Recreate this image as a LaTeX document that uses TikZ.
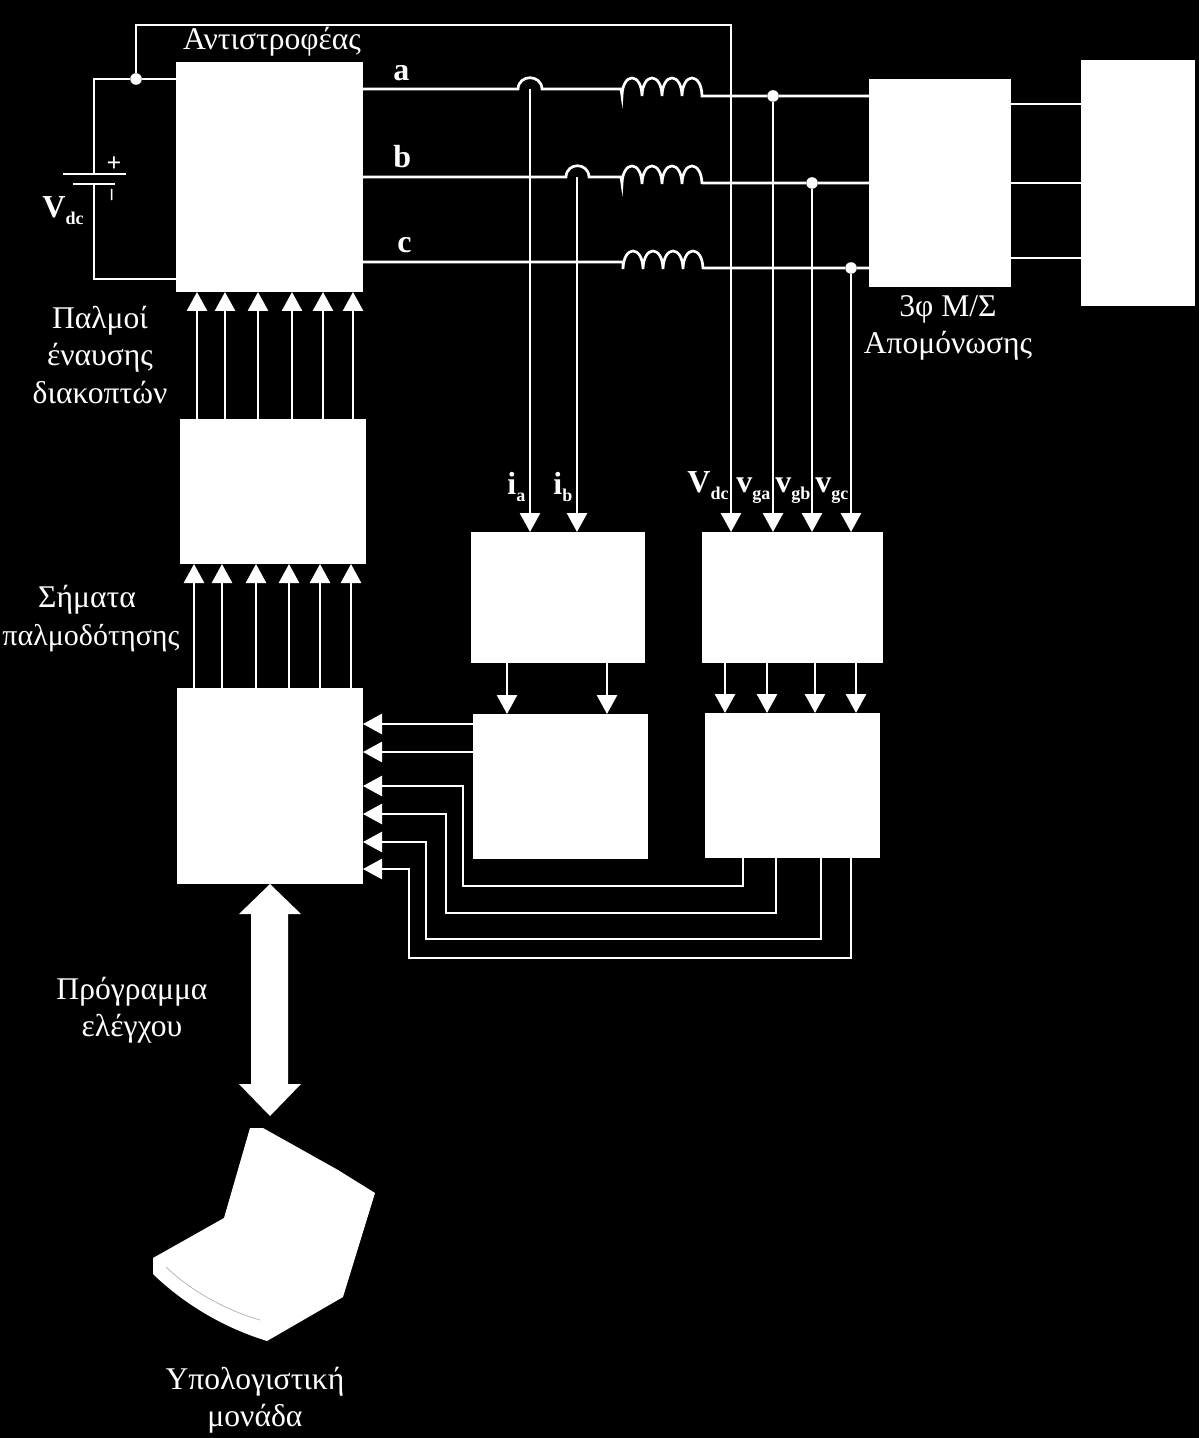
\documentclass[tikz,border=0pt]{standalone}
\usepackage{fontspec}
\setmainfont{Liberation Serif}
\usetikzlibrary{arrows.meta,calc}
\newcommand\subl[3]{#1\raisebox{#3}{\fontsize{9}{9}\selectfont #2}}
\tikzset{
  wire/.style={draw=white,line width=1.35pt},
  arr/.style={wire,-{Triangle[length=9.5pt,width=10pt,fill=white]}},
  box/.style={fill=white,draw=none,inner sep=0pt,outer sep=0pt},
  dot/.style={circle,fill=white,inner sep=0pt,minimum size=5.8pt},
  txt/.style={text=white,align=center,inner sep=0pt,font=\fontsize{15.8}{18.75}\selectfont},
  bld/.style={text=white,inner sep=0pt,anchor=base west,font=\bfseries\fontsize{16}{18}\selectfont},
}
\begin{document}
\begin{tikzpicture}[x=0.5pt,y=-0.5pt]
\fill[black] (0,0) rectangle (1199,1438);
\useasboundingbox (0,0) rectangle (1199,1438);
% boxes
\node[box,minimum width=93.5pt,minimum height=115pt] (inv) at (269.5,177) {};
\node[box,minimum width=71pt,minimum height=104pt] (trafo) at (940,183) {};
\node[box,minimum width=57pt,minimum height=123pt] (grid) at (1138,183) {};
\node[box,minimum width=93pt,minimum height=72.5pt] (drv) at (273,491.5) {};
\node[box,minimum width=93pt,minimum height=98pt] (ctrl) at (270,786) {};
\node[box,minimum width=87pt,minimum height=65.5pt] (mi) at (558,597.5) {};
\node[box,minimum width=90.5pt,minimum height=65.5pt] (mv) at (792.5,597.5) {};
\node[box,minimum width=87.5pt,minimum height=72.5pt] (ci) at (560.5,786.5) {};
\node[box,minimum width=87.5pt,minimum height=72.5pt] (cv) at (792.5,785.5) {};
% junctions
\node[dot] (dc) at (136,79) {};
\node[dot] (da) at (773,96) {};
\node[dot] (db) at (812,183) {};
\node[dot] (dd) at (851,268) {};
% dc side
\coordinate (bp) at (94,174);
\coordinate (bn) at (94,184);
\draw[wire] (inv.west |- dc) -- (dc) -- (94,79) -- (bp);
\draw[wire] (inv.west |- 0,279) -- (94,279) -- (bn);
\draw[wire] (63,174) -- (126,174);
\draw[wire] (73,184) -- (115,184);
\draw[arr] (dc) -- (136,25) -- (731,25) -- (mv.north -| 731,0);
% phase a
\draw[wire] (inv.east |- 0,89) -- (518,89) .. controls (518.5,74) and (541.5,74) .. (542,89) -- (621,89) -- (622,96)
  .. controls (622.5,72) and (641.5,72) .. (642,96) .. controls (642.5,72) and (661.5,72) .. (662,96)
  .. controls (662.5,72) and (681.5,72) .. (682,96) .. controls (682.5,72) and (701.5,72) .. (702,96)
  -- (da) -- (trafo.west |- da);
% phase b
\draw[wire] (inv.east |- 0,177) -- (566,177) .. controls (566.5,162) and (588.5,162) .. (589,177) -- (621,177) -- (622,184)
  .. controls (622.5,160) and (641.5,160) .. (642,184) .. controls (642.5,160) and (661.5,160) .. (662,184)
  .. controls (662.5,160) and (681.5,160) .. (682,184) .. controls (682.5,160) and (701.5,160) .. (702,184)
  -- (702,183) -- (db) -- (trafo.west |- db);
% phase c
\draw[wire] (inv.east |- 0,262) -- (623,262) -- (623,269)
  .. controls (623.5,245) and (642.5,245) .. (643,269) .. controls (643.5,245) and (662.5,245) .. (663,269)
  .. controls (663.5,245) and (682.5,245) .. (683,269) .. controls (683.5,245) and (702.5,245) .. (703,269)
  -- (703,268) -- (dd) -- (trafo.west |- dd);
% to grid
\foreach \y in {104,183,258} \draw[wire] (trafo.east |- 0,\y) -- (grid.west |- 0,\y);
% measurements
\draw[arr] (530,89) -- (mi.north -| 530,0);
\draw[arr] (577,177) -- (mi.north -| 577,0);
\draw[arr] (da) -- (mv.north -| da);
\draw[arr] (db) -- (mv.north -| db);
\draw[arr] (dd) -- (mv.north -| dd);
% pulses
\foreach \x in {197,225,258,292,323,353} \draw[arr] (drv.north -| \x,0) -- (inv.south -| \x,0);
\foreach \x in {194,222,256,289,320,351} \draw[arr] (ctrl.north -| \x,0) -- (drv.south -| \x,0);
\foreach \x in {507,607} \draw[arr] (mi.south -| \x,0) -- (ci.north -| \x,0);
\foreach \x in {725,767,815,856} \draw[arr] (mv.south -| \x,0) -- (cv.north -| \x,0);
% feedback
\foreach \y in {724,752} \draw[arr] (ci.west |- 0,\y) -- (ctrl.east |- 0,\y);
\draw[arr] (cv.south -| 743,0) -- (743,886) -- (463,886) -- (463,786) -- (ctrl.east |- 0,786);
\draw[arr] (cv.south -| 776,0) -- (776,913) -- (446,913) -- (446,814) -- (ctrl.east |- 0,814);
\draw[arr] (cv.south -| 821,0) -- (821,939) -- (426,939) -- (426,842) -- (ctrl.east |- 0,842);
\draw[arr] (cv.south -| 851,0) -- (851,958) -- (409,958) -- (409,869) -- (ctrl.east |- 0,869);
% big double arrow
\fill[white] (270,884) -- (301,914) -- (288,914) -- (288,1084) -- (301,1084) -- (270,1116) -- (239,1084) -- (251,1084) -- (251,914) -- (239,914) -- cycle;
% laptop
\fill[white] (250,1128) -- (263,1128) -- (338,1170) -- (375,1193) -- (343,1297) -- (267,1341)
  .. controls (225,1328) and (185,1305) .. (153,1274) -- (153,1258) -- (224,1218) -- cycle;
\draw[gray!70,line width=0.3pt] (166,1267) .. controls (190,1290) and (225,1310) .. (260,1320);
% text
\node[txt,anchor=base] (t1) at (272,50) {Αντιστροφέας};
\node[txt] (t2) at (100,355) {Παλμοί\\έναυσης\\διακοπτών};
\node[txt] (t3a) at (87,600) {Σήματα};
\node[txt,font=\fontsize{15}{18}\selectfont] (t3b) at (91,638) {παλμοδότησης};
\node[txt] (t4) at (132,1010) {Πρόγραμμα\\ελέγχου};
\node[txt] (t5) at (255,1400) {Υπολογιστική\\μονάδα};
\node[txt] (t6) at (948,328) {3φ Μ/Σ\\Απομόνωσης};
\node[bld] (la) at (393,81) {a};
\node[bld] (lb) at (393,168) {b};
\node[bld] (lc) at (397,253) {c};
\node[bld] (vd) at (42,218) {\subl{V}{dc}{-3.5pt}};
\node[bld] (ia) at (507,494) {\subl{i}{a}{-3.5pt}};
\node[bld] (ib) at (553,494) {\subl{i}{b}{-3.5pt}};
\node[bld] (vd2) at (687,492) {\subl{V}{dc}{-3.5pt}};
\node[bld] (va) at (736,492) {\subl{v}{ga}{-3.5pt}};
\node[bld] (vb) at (775,492) {\subl{v}{gb}{-3.5pt}};
\node[bld] (vc) at (815,492) {\subl{v}{gc}{-3.5pt}};
\node[text=white,font=\bfseries\fontsize{13}{13}\selectfont,inner sep=0pt] (pl) at (114,164) {+};
\node[text=white,font=\bfseries\fontsize{11}{11}\selectfont,inner sep=0pt,rotate=90] (mn) at (114,195) {–};
\end{tikzpicture}
\end{document}
